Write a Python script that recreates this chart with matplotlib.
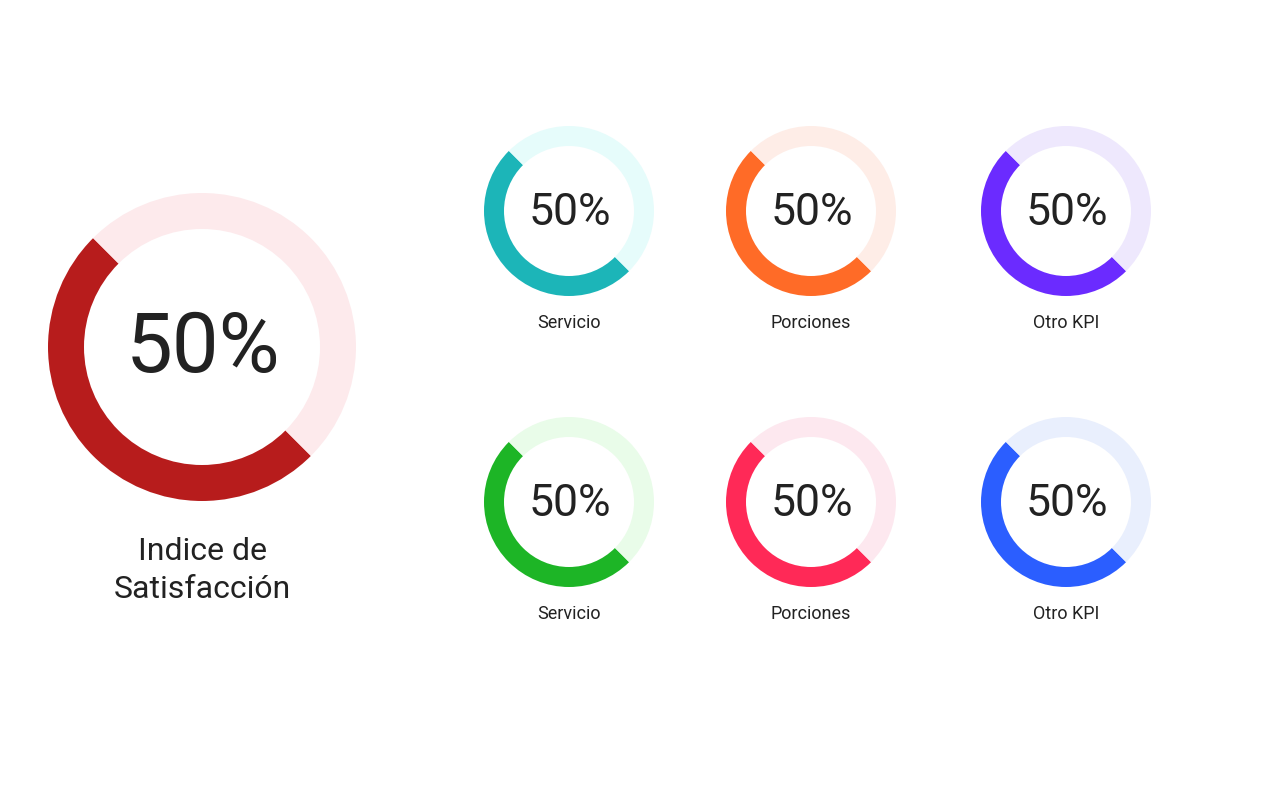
import matplotlib
matplotlib.use("Agg")
import matplotlib.pyplot as plt

plt.rcParams['font.family'] = ['Roboto', 'DejaVu Sans']

# Data
main_label = ["Indice de", "Satisfacción"]
main_value = 50
main_colors = ["#B71C1C", "#FDEAEC"]

kpi_labels = ["Servicio", "Porciones", "Otro KPI", "Servicio", "Porciones", "Otro KPI"]
kpi_values = [50, 50, 50, 50, 50, 50]
kpi_colors = ["#1CB5B8", "#FF6B27", "#6B2BFF", "#1DB526", "#FF2957", "#2B5EFF"]
kpi_light = ["#E6FCFB", "#FEEDE7", "#EEE8FD", "#E9FCE9", "#FDE8EF", "#E9EFFD"]

W, H = 1280, 800
fig = plt.figure(figsize=(12.8, 8), dpi=100)
fig.patch.set_facecolor("white")
TXT = "#222222"


def donut(cx, cy, r, ring, value, color, light):
    ax = fig.add_axes([(cx - r) / W, (H - cy - r) / H, 2 * r / W, 2 * r / H])
    ax.pie([value, 100 - value], colors=[color, light], startangle=135,
           counterclock=True, radius=1,
           wedgeprops=dict(width=ring / r, linewidth=0))
    ax.set_xlim(-1, 1)
    ax.set_ylim(-1, 1)
    ax.set_aspect("equal")
    ax.axis("off")


def ftext(x, y, s, size):
    fig.text(x / W, 1 - y / H, s, ha="center", va="baseline", fontsize=size, color=TXT)


# Big donut
donut(202, 347, 154, 36, main_value, main_colors[0], main_colors[1])
ftext(203, 372, f"{main_value}%", 60)
ftext(202, 560, main_label[0], 23)
ftext(202, 598, main_label[1], 23)

# Small donuts
xs = [569, 811, 1066]
ys = [211, 502]
label_base = [328, 619]
val_base = [225, 516]
for i, (lab, v, c, lc) in enumerate(zip(kpi_labels, kpi_values, kpi_colors, kpi_light)):
    row, col = divmod(i, 3)
    cx, cy = xs[col], ys[row]
    donut(cx, cy, 85, 20, v, c, lc)
    ftext(cx + 1, val_base[row], f"{v}%", 32)
    ftext(cx, label_base[row], lab, 13)

fig.savefig("out.png", dpi=100, facecolor="white")
